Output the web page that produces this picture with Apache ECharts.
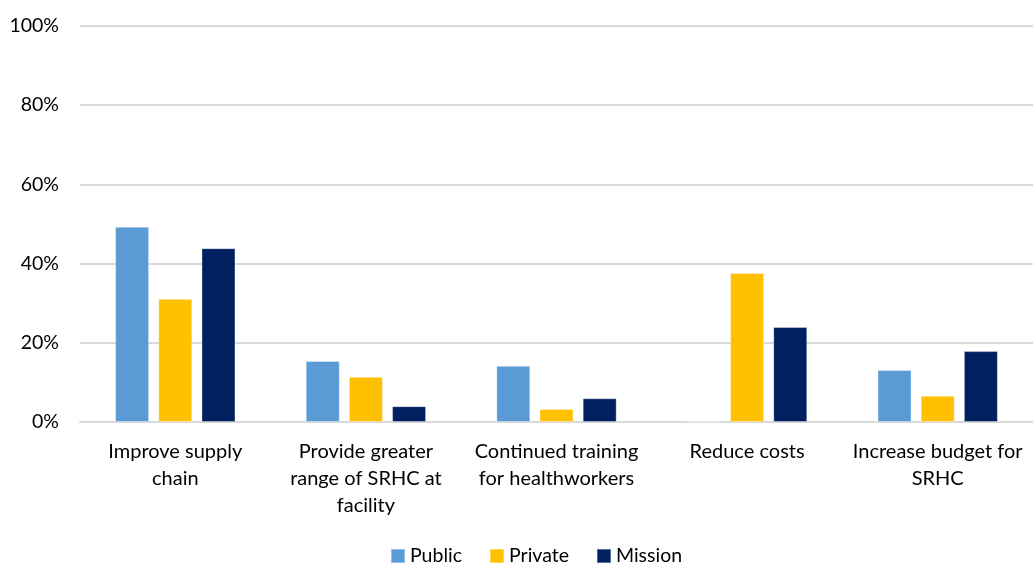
<!DOCTYPE html>
<html>
<head>
<meta charset="utf-8">
<script src="https://cdn.jsdelivr.net/npm/echarts@6/dist/echarts.min.js"></script>
<style>
  html, body { margin: 0; padding: 0; background: #fff; }
  #main { width: 1033px; height: 565px; }
</style>
</head>
<body>
<div id="main"></div>
<script>
// categories (x axis)
var categories = [
  'Improve supply\nchain',
  'Provide greater\nrange of SRHC at\nfacility',
  'Continued training\nfor healthworkers',
  'Reduce costs',
  'Increase budget for\nSRHC'
];
// series values, in percent
var publicVals = [49.3, 15.4, 14.2, 0, 13.1];
var privateVals = [31.1, 11.4, 3.3, 37.6, 6.6];
var missionVals = [43.9, 4.0, 6.0, 24.0, 17.9];

var chart = echarts.init(document.getElementById('main'));

function bar(name, data, color) {
  return {
    name: name,
    type: 'bar',
    data: data,
    barWidth: 34,
    barGap: '27%',
    itemStyle: { color: color, borderColor: 'rgba(255,255,255,0.35)', borderWidth: 1 }
  };
}

chart.setOption({
  animation: false,
  textStyle: { fontFamily: 'Lato', color: '#000' },
  grid: { left: 80, right: 0, top: 26, bottom: 143 },
  legend: {
    top: 541,
    left: 385,
    itemWidth: 14,
    itemHeight: 14,
    itemGap: 27,
    icon: 'rect',
    textStyle: { fontSize: 19.5, color: '#000', fontFamily: 'Lato' },
    data: ['Public', 'Private', 'Mission']
  },
  xAxis: {
    type: 'category',
    data: categories,
    axisLine: { lineStyle: { color: '#d9d9d9', width: 2 } },
    axisTick: { show: false },
    axisLabel: { fontSize: 20, color: '#000', lineHeight: 27, margin: 16, interval: 0 }
  },
  yAxis: {
    type: 'value',
    min: 0,
    max: 100,
    interval: 20,
    axisLine: { show: false },
    axisTick: { show: false },
    axisLabel: { fontSize: 19.5, color: '#000', margin: 21, formatter: '{value}%' },
    splitLine: { lineStyle: { color: '#d9d9d9', width: 2 } }
  },
  series: [
    bar('Public', publicVals, '#5b9bd5'),
    bar('Private', privateVals, '#ffc000'),
    bar('Mission', missionVals, '#002060')
  ]
});
</script>
</body>
</html>
